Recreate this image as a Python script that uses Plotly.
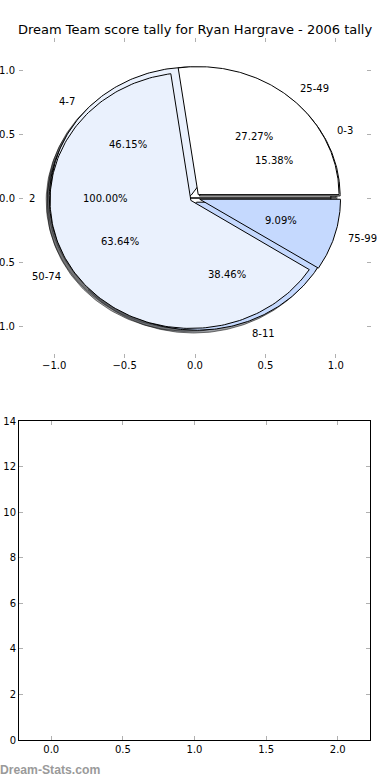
import numpy as np
import plotly.graph_objects as go

# ---- data ----
pie_a_labels = ["2"]
pie_a_values = [1]
pie_c_labels = ["0-3", "4-7", "8-11"]
pie_c_values = [2, 6, 5]
pie_b_labels = ["25-49", "50-74", "75-99"]
pie_b_values = [3, 7, 1]

bar_x_ticks = [0.0, 0.5, 1.0, 1.5, 2.0]
bar_y_ticks = [0, 2, 4, 6, 8, 10, 12, 14]

title = "Dream Team score tally for Ryan Hargrave - 2006 tally"

# ---- style ----
slice_colors = [(255, 255, 255), (234, 241, 253), (197, 217, 254)]
explode = 0.035
shadow_off = 0.022
FONT = "DejaVu Sans"

pies = [(pie_a_labels, pie_a_values), (pie_c_labels, pie_c_values), (pie_b_labels, pie_b_values)]

fig = go.Figure()
shadow_traces = []
wedge_traces = []
annotations = []

for labels, values in pies:
    total = float(sum(values))
    theta1 = 0.0
    for i, (lab, val) in enumerate(zip(labels, values)):
        frac = val / total
        theta2 = theta1 + 360.0 * frac
        tm = np.deg2rad((theta1 + theta2) / 2.0)
        cx = explode * np.cos(tm)
        cy = explode * np.sin(tm)
        ang = np.deg2rad(np.linspace(theta1, theta2, 180))
        xs = np.concatenate([[cx], cx + np.cos(ang), [cx]])
        ys = np.concatenate([[cy], cy + np.sin(ang), [cy]])
        r, g, b = slice_colors[i % len(slice_colors)]
        shadow_traces.append(go.Scatter(
            x=xs - shadow_off, y=ys - shadow_off, mode="lines", fill="toself",
            fillcolor="rgba(%d,%d,%d,0.5)" % (int(r * 0.3), int(g * 0.3), int(b * 0.3)),
            line=dict(color="rgba(0,0,0,0.5)", width=1), hoverinfo="skip",
            xaxis="x", yaxis="y"))
        wedge_traces.append(go.Scatter(
            x=xs, y=ys, mode="lines", fill="toself",
            fillcolor="rgb(%d,%d,%d)" % (r, g, b),
            line=dict(color="black", width=1), hoverinfo="skip",
            xaxis="x", yaxis="y"))
        xt = cx + 1.1 * np.cos(tm)
        yt = cy + 1.1 * np.sin(tm)
        annotations.append(dict(x=xt, y=yt, xref="x", yref="y", text=lab, showarrow=False,
                                xanchor="left" if xt > 0 else "right", yanchor="middle",
                                borderpad=0, borderwidth=0,
                                font=dict(family=FONT, size=10, color="black")))
        xp = cx + 0.6 * np.cos(tm)
        yp = cy + 0.6 * np.sin(tm)
        annotations.append(dict(x=xp, y=yp, xref="x", yref="y", text="%1.2f%%" % (frac * 100),
                                showarrow=False, xanchor="center", yanchor="middle",
                                borderpad=0, borderwidth=0,
                                font=dict(family=FONT, size=10, color="black")))
        theta1 = theta2

for t in shadow_traces + wedge_traces:
    fig.add_trace(t)

# empty bottom axes
fig.add_trace(go.Scatter(x=[], y=[], xaxis="x2", yaxis="y2", mode="markers"))

W, H = 390, 780


def px_x(p):
    return p / W


def px_y(p):
    return 1 - p / H


annotations.append(dict(x=px_x(195), y=px_y(30), xref="paper", yref="paper", text=title,
                        showarrow=False, xanchor="center", yanchor="middle",
                        font=dict(family=FONT, size=13, color="black")))
annotations.append(dict(x=px_x(0), y=px_y(770), xref="paper", yref="paper",
                        text="<b>Dream-Stats.com</b>", borderpad=0, borderwidth=0,
                        showarrow=False, xanchor="left", yanchor="middle",
                        font=dict(family="Liberation Sans", size=12.2, color="#9a9a9a")))

tick_common = dict(ticks="inside", ticklen=4, tickcolor="#b0b0b0", tickwidth=1,
                   showgrid=False, zeroline=False, automargin=False,
                   tickfont=dict(family=FONT, size=10, color="black"))

fig.update_layout(
    width=W, height=H, margin=dict(l=0, r=0, t=0, b=0),
    paper_bgcolor="white", plot_bgcolor="white", showlegend=False,
    xaxis=dict(domain=[px_x(19), px_x(371)], range=[-1.25, 1.25],
               tickvals=[-1.0, -0.5, 0.0, 0.5, 1.0],
               tickformat=".1f", showline=False, mirror="ticks", anchor="y", **tick_common),
    yaxis=dict(domain=[px_y(358), px_y(38)], range=[-1.25, 1.25],
               tickvals=[-1.0, -0.5, 0.0, 0.5, 1.0], tickformat=".1f",
               ticklabelstandoff=3,
               showline=False, mirror="ticks", anchor="x", **tick_common),
    xaxis2=dict(domain=[px_x(19), px_x(370)], range=[-0.225, 2.225], tickvals=bar_x_ticks,
                tickformat=".1f", showline=True, linecolor="black", linewidth=1,
                mirror="ticks", anchor="y2", **tick_common),
    yaxis2=dict(domain=[px_y(740), px_y(421)], range=[0, 14], tickvals=bar_y_ticks,
                showline=True, linecolor="black", linewidth=1, mirror="ticks", anchor="x2",
                **tick_common),
    annotations=annotations,
)

# remove the browser's default 8px page margin so the figure sits at the top-left corner
fig.write_html("out.html", config={"displayModeBar": False},
               post_script="document.body.style.margin='0px';")
